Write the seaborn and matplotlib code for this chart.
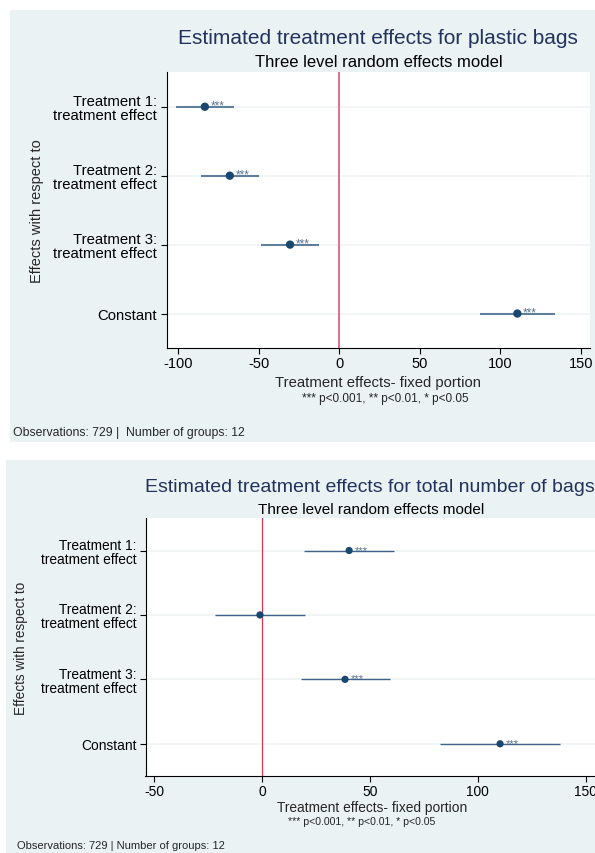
import numpy as np
import pandas as pd
import matplotlib
matplotlib.use("Agg")
import matplotlib.pyplot as plt
from matplotlib.patches import Rectangle
import seaborn as sns

# ---- data -------------------------------------------------------------
terms = [
    "Treatment 1:\ntreatment effect",
    "Treatment 2:\ntreatment effect",
    "Treatment 3:\ntreatment effect",
    "Constant",
]

plastic_coef = [-83.4, -67.9, -30.5, 110.6]
plastic_lo = [-101.5, -85.9, -48.6, 87.2]
plastic_hi = [-65.4, -49.8, -12.5, 133.9]
plastic_stars = ["***", "***", "***", "***"]

total_coef = [40.4, -0.9, 38.5, 110.3]
total_lo = [19.6, -21.7, 17.9, 82.6]
total_hi = [61.3, 20.0, 59.2, 138.2]
total_stars = ["***", "", "***", "***"]

plastic_ticks = [-100, -50, 0, 50, 100, 150]
total_ticks = [-50, 0, 50, 100, 150]

title_plastic = "Estimated treatment effects for plastic bags"
title_total = "Estimated treatment effects for total number of bags"
subtitle = "Three level random effects model"
xlab = "Treatment effects- fixed portion"
ylab = "Effects with respect to"
note = "*** p<0.001, ** p<0.01, * p<0.05"
obs_plastic = "Observations: 729 |  Number of groups: 12"
obs_total = "Observations: 729 | Number of groups: 12"

# ---- style ------------------------------------------------------------
sns.set_theme(style="ticks")
plt.rcParams["font.family"] = ["Liberation Sans", "DejaVu Sans"]

W, H = 595, 854
BG = "#EAF2F3"
NAVY = "#1A476F"
TITLE_C = "#22325C"
GRID_C = "#EDF2F3"

fig = plt.figure(figsize=(W / 100, H / 100), dpi=100)
fig.patch.set_facecolor("white")


def fx(px):
    return px / W


def fy(py):
    return 1 - py / H


def box(x0, y0, x1, y1):
    return [fx(x0), fy(y1), fx(x1) - fx(x0), fy(y0) - fy(y1)]


# panel backgrounds
for (x0, y0, x1, y1) in [(10, 11, 600, 443), (6, 461, 600, 858)]:
    fig.patches.append(Rectangle((fx(x0), fy(y1)), fx(x1) - fx(x0), fy(y0) - fy(y1),
                                 transform=fig.transFigure, facecolor=BG,
                                 edgecolor="none", zorder=-10))


def panel(rect, coef, lo, hi, stars, ticks, xlim, s, cfg):
    ax = fig.add_axes(rect)
    ax.set_facecolor("white")
    df = pd.DataFrame({"term": terms, "coef": coef, "lo": lo, "hi": hi})

    ax.axvline(0, color=cfg["red"], lw=cfg["red_lw"], zorder=2)
    ax.hlines(df["term"], df["lo"], df["hi"], color=cfg["bar"],
              lw=cfg["bar_lw"], zorder=3)
    sns.scatterplot(data=df, x="coef", y="term", color=NAVY, s=s,
                    edgecolor="none", linewidth=0, zorder=4, ax=ax, legend=False)
    for i, (c, st) in enumerate(zip(coef, stars)):
        if st:
            ax.annotate(st, (c, i), xytext=(4.0, 0.6), textcoords="offset points",
                        ha="left", va="center", fontsize=cfg["star_fs"],
                        color=cfg["star_c"], zorder=5)

    ax.set_ylim(len(terms) - 0.5, -0.5)
    ax.set_xlim(*xlim)
    ax.set_xticks(ticks)
    ax.set_xticklabels([str(t) for t in ticks])
    ax.yaxis.grid(True, color=GRID_C, lw=1.1, zorder=0)
    ax.xaxis.grid(False)
    ax.set_axisbelow(True)
    ax.set_xlabel("")
    ax.set_ylabel("")
    for side in ("top", "right"):
        ax.spines[side].set_visible(False)
    for side in ("left", "bottom"):
        ax.spines[side].set_color("black")
        ax.spines[side].set_linewidth(0.8)
    ax.tick_params(axis="both", direction="out", length=cfg["tick_len"],
                   width=0.8, color="black", labelcolor="black")
    ax.tick_params(axis="y", labelsize=cfg["ytick_fs"], pad=cfg["ypad"])
    ax.tick_params(axis="x", labelsize=cfg["xtick_fs"], pad=cfg["xpad"])
    for lbl in ax.get_yticklabels():
        lbl.set_linespacing(1.0)
        lbl.set_multialignment("right")
    return ax


# ---- top panel: plastic bags ------------------------------------------
top_cfg = dict(red="#D65877", red_lw=1.2, bar="#5F7F9D", bar_lw=1.5,
               star_fs=8.5, star_c="#56738F", tick_len=4.3, ytick_fs=10.7,
               xtick_fs=10.5, ypad=2.5, xpad=1.5)
panel(box(166.5, 73.3, 590, 349), plastic_coef, plastic_lo, plastic_hi,
      plastic_stars, plastic_ticks, (-107.2, 155.7), 36, top_cfg)

fig.text(fx(377.5), fy(38.7), title_plastic, ha="center", va="center",
         fontsize=15, color=TITLE_C)
fig.text(fx(378.5), fy(62.6), subtitle, ha="center", va="center",
         fontsize=12, color="black")
fig.text(fx(378), fy(383), xlab, ha="center", va="center", fontsize=10.7)
fig.text(fx(385), fy(399), note, ha="center", va="center", fontsize=8.5)
fig.text(fx(37), fy(211.5), ylab, ha="center", va="center", rotation=90,
         fontsize=10.5)
fig.text(fx(13), fy(433), obs_plastic, ha="left", va="center", fontsize=8.8)

# ---- bottom panel: total number of bags -------------------------------
bot_cfg = dict(red="#DA3553", red_lw=0.9, bar="#3F6389", bar_lw=1.0,
               star_fs=8, star_c="#56738F", tick_len=4.1, ytick_fs=9.9,
               xtick_fs=9.9, ypad=2.3, xpad=2.0)
panel(box(145.5, 519.3, 599.4, 777), total_coef, total_lo, total_hi,
      total_stars, total_ticks, (-53.9, 156.3), 27, bot_cfg)

fig.text(fx(370), fy(488), title_total, ha="center", va="center",
         fontsize=14, color=TITLE_C)
fig.text(fx(371), fy(510), subtitle, ha="center", va="center",
         fontsize=11, color="black")
fig.text(fx(372), fy(808), xlab, ha="center", va="center", fontsize=9.9)
fig.text(fx(362), fy(822.5), note, ha="center", va="center", fontsize=7.6)
fig.text(fx(21.5), fy(648), ylab, ha="center", va="center", rotation=90,
         fontsize=9.8)
fig.text(fx(17), fy(846), obs_total, ha="left", va="center", fontsize=8)

fig.savefig("out.png", dpi=100, facecolor=fig.get_facecolor())
